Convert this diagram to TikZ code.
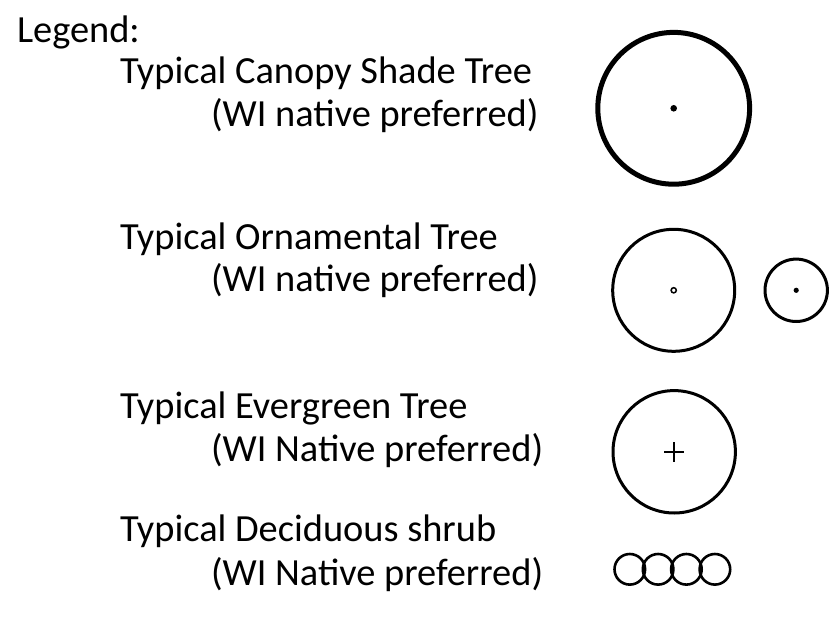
\documentclass[tikz,border=0pt]{standalone}
\usepackage{fontspec}
\setmainfont{Carlito}
\begin{document}
\begin{tikzpicture}[x=1pt,y=-1pt,
  lbl/.style={anchor=base west,inner sep=0pt,outer sep=0pt,font=\fontsize{38.4}{46}\selectfont},
  thickring/.style={draw=black,line width=5pt},
  ring/.style={draw=black,line width=3pt},
  shrubring/.style={draw=black,line width=2.6pt}]
\useasboundingbox (0,0) rectangle (830,620);
% texts
\node[lbl] (legend) at (17,43) {Legend:};
\node[lbl] (t1) at (120,84) {Typical Canopy Shade Tree};
\node[lbl] (p1) at (211,127) {(WI native preferred)};
\node[lbl] (t2) at (120,250) {Typical Ornamental Tree};
\node[lbl] (p2) at (211,292) {(WI native preferred)};
\node[lbl] (t3) at (120,418) {Typical Evergreen Tree};
\node[lbl] (p3) at (211,461) {(WI Native preferred)};
\node[lbl] (t4) at (120,541) {Typical Deciduous shrub};
\node[lbl] (p4) at (211,585) {(WI Native preferred)};
% canopy shade tree
\coordinate (c1) at (673.7,108.3);
\draw[thickring] (c1) circle[radius=75.9];
\fill (c1) circle[radius=3.3];
% ornamental trees
\coordinate (c2) at (673.7,290.3);
\draw[ring] (c2) circle[radius=61];
\draw[line width=1.5pt] (c2) circle[radius=2.6];
\coordinate (c3) at (796.2,290.3);
\draw[ring] (c3) circle[radius=31.2];
\fill (c3) circle[radius=2.6];
% evergreen tree
\coordinate (c4) at (674.2,451.8);
\draw[ring] (c4) circle[radius=61.2];
\draw[line width=2pt] ([xshift=-10pt]c4) -- ([xshift=10pt]c4)
  ([yshift=-10pt]c4) -- ([yshift=10pt]c4);
% shrubs
\foreach \i/\xx in {1/629.8,2/658.1,3/686.4,4/714.9}{
  \coordinate (s\i) at (\xx,569.3);
  \draw[shrubring] (s\i) circle[radius=15.3];
}
\end{tikzpicture}
\end{document}
